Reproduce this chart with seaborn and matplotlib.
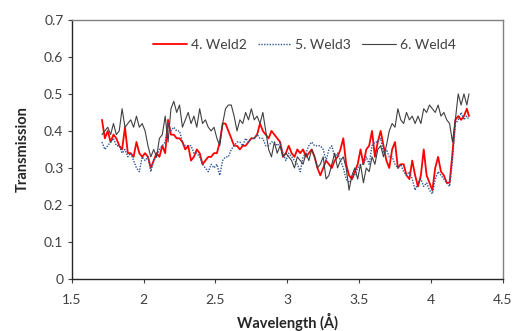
import numpy as np
import pandas as pd
import matplotlib
matplotlib.use("Agg")
import matplotlib.pyplot as plt
import seaborn as sns

wavelength = [1.71, 1.73, 1.75, 1.77, 1.79, 1.81, 1.83, 1.85, 1.87, 1.89,
              1.91, 1.93, 1.95, 1.97, 1.99, 2.01, 2.03, 2.05, 2.07, 2.09,
              2.11, 2.13, 2.15, 2.17, 2.19, 2.21, 2.23, 2.25, 2.27, 2.29,
              2.31, 2.33, 2.35, 2.37, 2.39, 2.41, 2.43, 2.45, 2.47, 2.49,
              2.51, 2.53, 2.55, 2.57, 2.59, 2.61, 2.63, 2.65, 2.67, 2.69,
              2.71, 2.73, 2.75, 2.77, 2.79, 2.81, 2.83, 2.85, 2.87, 2.89,
              2.91, 2.93, 2.95, 2.97, 2.99, 3.01, 3.03, 3.05, 3.07, 3.09,
              3.11, 3.13, 3.15, 3.17, 3.19, 3.21, 3.23, 3.25, 3.27, 3.29,
              3.31, 3.33, 3.35, 3.37, 3.39, 3.41, 3.43, 3.45, 3.47, 3.49,
              3.51, 3.53, 3.55, 3.57, 3.59, 3.61, 3.63, 3.65, 3.67, 3.69,
              3.71, 3.73, 3.75, 3.77, 3.79, 3.81, 3.83, 3.85, 3.87, 3.89,
              3.91, 3.93, 3.95, 3.97, 3.99, 4.01, 4.03, 4.05, 4.07, 4.09,
              4.11, 4.13, 4.15, 4.17, 4.19, 4.21, 4.23, 4.25, 4.265]

weld2 = [0.43, 0.38, 0.40, 0.37, 0.39, 0.38, 0.36, 0.35, 0.41, 0.34,
         0.34, 0.33, 0.37, 0.34, 0.33, 0.34, 0.33, 0.30, 0.32, 0.34,
         0.33, 0.36, 0.34, 0.43, 0.39, 0.39, 0.38, 0.38, 0.37, 0.35,
         0.36, 0.32, 0.33, 0.35, 0.34, 0.31, 0.32, 0.33, 0.33, 0.34,
         0.34, 0.37, 0.42, 0.42, 0.40, 0.38, 0.36, 0.36, 0.35, 0.36,
         0.36, 0.37, 0.38, 0.38, 0.39, 0.42, 0.40, 0.39, 0.38, 0.40,
         0.39, 0.38, 0.37, 0.33, 0.34, 0.36, 0.34, 0.33, 0.35, 0.34,
         0.35, 0.33, 0.34, 0.35, 0.33, 0.30, 0.28, 0.30, 0.32, 0.31,
         0.30, 0.32, 0.33, 0.35, 0.38, 0.31, 0.28, 0.27, 0.29, 0.31,
         0.35, 0.31, 0.35, 0.36, 0.40, 0.33, 0.37, 0.40, 0.36, 0.32,
         0.30, 0.35, 0.37, 0.30, 0.31, 0.31, 0.28, 0.27, 0.32, 0.28,
         0.25, 0.28, 0.35, 0.28, 0.26, 0.24, 0.30, 0.33, 0.29, 0.28,
         0.26, 0.26, 0.34, 0.43, 0.44, 0.43, 0.44, 0.46, 0.44]

weld3 = [0.37, 0.35, 0.36, 0.37, 0.38, 0.36, 0.36, 0.34, 0.35, 0.33,
         0.34, 0.32, 0.30, 0.29, 0.33, 0.32, 0.33, 0.29, 0.32, 0.33,
         0.35, 0.36, 0.37, 0.42, 0.40, 0.41, 0.40, 0.40, 0.37, 0.36,
         0.36, 0.36, 0.34, 0.34, 0.33, 0.31, 0.30, 0.29, 0.31, 0.30,
         0.31, 0.28, 0.32, 0.33, 0.33, 0.35, 0.36, 0.37, 0.37, 0.36,
         0.38, 0.37, 0.38, 0.38, 0.39, 0.38, 0.38, 0.36, 0.36, 0.37,
         0.37, 0.36, 0.37, 0.34, 0.32, 0.34, 0.33, 0.32, 0.31, 0.29,
         0.33, 0.34, 0.36, 0.37, 0.36, 0.36, 0.36, 0.35, 0.32, 0.35,
         0.36, 0.33, 0.34, 0.32, 0.30, 0.27, 0.26, 0.27, 0.28, 0.30,
         0.31, 0.31, 0.33, 0.31, 0.36, 0.37, 0.37, 0.38, 0.34, 0.35,
         0.33, 0.33, 0.31, 0.30, 0.31, 0.29, 0.28, 0.29, 0.27, 0.24,
         0.26, 0.27, 0.25, 0.26, 0.24, 0.23, 0.27, 0.29, 0.28, 0.27,
         0.26, 0.25, 0.32, 0.42, 0.43, 0.45, 0.43, 0.44, 0.43]

weld4 = [0.39, 0.40, 0.41, 0.39, 0.42, 0.39, 0.40, 0.46, 0.41, 0.42,
         0.43, 0.41, 0.44, 0.41, 0.42, 0.40, 0.36, 0.33, 0.35, 0.33,
         0.38, 0.39, 0.44, 0.37, 0.46, 0.48, 0.45, 0.47, 0.41, 0.43,
         0.45, 0.42, 0.44, 0.41, 0.46, 0.42, 0.43, 0.41, 0.40, 0.41,
         0.38, 0.36, 0.42, 0.46, 0.47, 0.47, 0.44, 0.40, 0.43, 0.42,
         0.45, 0.43, 0.46, 0.43, 0.44, 0.42, 0.45, 0.40, 0.35, 0.33,
         0.37, 0.34, 0.36, 0.33, 0.34, 0.33, 0.32, 0.30, 0.33, 0.32,
         0.31, 0.34, 0.32, 0.35, 0.33, 0.30, 0.31, 0.33, 0.27, 0.28,
         0.31, 0.34, 0.30, 0.32, 0.33, 0.30, 0.24, 0.28, 0.30, 0.27,
         0.31, 0.26, 0.30, 0.29, 0.33, 0.31, 0.35, 0.36, 0.33, 0.36,
         0.40, 0.42, 0.41, 0.46, 0.43, 0.42, 0.45, 0.43, 0.44, 0.42,
         0.44, 0.42, 0.46, 0.45, 0.47, 0.46, 0.45, 0.47, 0.44, 0.45,
         0.43, 0.42, 0.37, 0.43, 0.50, 0.47, 0.50, 0.47, 0.50]

series_names = ["4. Weld2", "5. Weld3", "6. Weld4"]
x_ticks = [1.5, 2, 2.5, 3, 3.5, 4, 4.5]
y_ticks = [0, 0.1, 0.2, 0.3, 0.4, 0.5, 0.6, 0.7]

df = pd.DataFrame({"Wavelength": wavelength * 3,
                   "Transmission": weld2 + weld3 + weld4,
                   "Series": [series_names[0]] * len(wavelength)
                             + [series_names[1]] * len(wavelength)
                             + [series_names[2]] * len(wavelength)})

sns.set_style("white")
plt.rcParams["font.family"] = ["Lato", "DejaVu Sans"]

fig = plt.figure(figsize=(5.13, 3.31), dpi=100)
ax = fig.add_axes([0.140, 0.157, 0.840, 0.783])

styles = {
    series_names[0]: dict(color="#FF0000", lw=1.3, ls="-"),
    series_names[1]: dict(color="#2F5597", lw=1.0, ls=(0, (1, 1))),
    series_names[2]: dict(color="#404040", lw=0.8, ls="-"),
}
for name in series_names:
    sub = df[df["Series"] == name]
    st = styles[name]
    sns.lineplot(data=sub, x="Wavelength", y="Transmission", ax=ax,
                 color=st["color"], linewidth=st["lw"], linestyle=st["ls"],
                 label=name, estimator=None, sort=False)

ax.set_xlim(1.5, 4.5)
ax.set_ylim(0, 0.7)
ax.set_xticks(x_ticks)
ax.set_xticklabels([f"{t:g}" for t in x_ticks])
ax.set_yticks(y_ticks)
ax.set_yticklabels([f"{t:g}" for t in y_ticks])
ax.tick_params(axis="both", labelsize=10, colors="#404040", length=3,
               width=0.8, direction="out", bottom=True, left=True, pad=3)
ax.tick_params(axis="x", pad=8)
ax.set_xlabel("Wavelength (Å)", fontsize=10.5, fontweight="bold", color="#262626", labelpad=5)
ax.set_ylabel("Transmission", fontsize=10.5, fontweight="bold", color="#262626", labelpad=10)

for side in ["left", "bottom"]:
    ax.spines[side].set_color("#262626")
    ax.spines[side].set_linewidth(1.0)
for side in ["top", "right"]:
    ax.spines[side].set_color("#808080")
    ax.spines[side].set_linewidth(1.0)

leg = ax.legend(loc="upper center", bbox_to_anchor=(0.54, 0.975), ncol=3, frameon=False,
                fontsize=10, handlelength=2.4, handletextpad=0.3, columnspacing=0.8)
for t in leg.get_texts():
    t.set_color("#404040")

fig.savefig("out.png", dpi=100)
